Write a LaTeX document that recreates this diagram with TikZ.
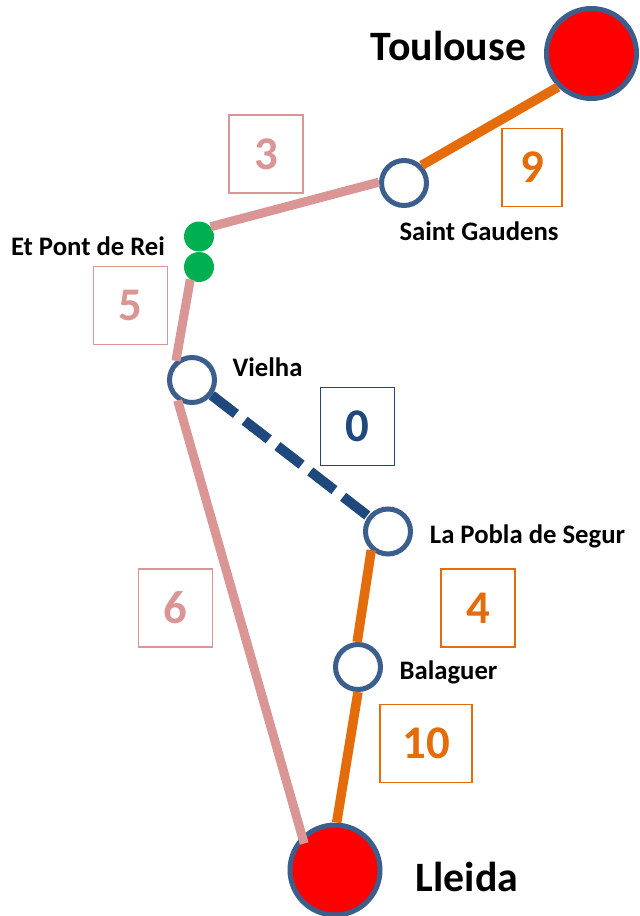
\documentclass[tikz,border=0pt]{standalone}
\usepackage{fontspec}
\setmainfont{Carlito}
\definecolor{ringblue}{RGB}{59,94,140}
\definecolor{dashblue}{RGB}{31,73,125}
\definecolor{lineorange}{RGB}{228,108,10}
\definecolor{linepink}{RGB}{217,150,148}
\definecolor{pontgreen}{RGB}{0,176,80}
\tikzstyle{city} = [circle, minimum size=90bp, inner sep=0pt, draw=ringblue, line width=5bp, fill=red]
\tikzstyle{stop} = [circle, minimum size=45bp, inner sep=0pt, draw=ringblue, line width=5bp, fill=white]
\tikzstyle{pont} = [circle, minimum size=30bp, inner sep=0pt, fill=pontgreen]
\tikzstyle{cityname} = [anchor=base, inner sep=0pt, font=\bfseries\fontsize{42}{46}\selectfont]
\tikzstyle{stopname} = [anchor=base, inner sep=0pt, font=\bfseries\fontsize{26.8}{30}\selectfont]
\tikzstyle{cost} = [rectangle, minimum width=74bp, minimum height=78bp, inner sep=0pt, line width=1.5bp, font=\bfseries\fontsize{47}{50}\selectfont]
\tikzstyle{orangeline} = [line width=9.5bp, draw=lineorange]
\tikzstyle{pinkline} = [line width=9bp, draw=linepink]
\tikzstyle{blueline} = [line width=10bp, draw=dashblue, dash pattern=on 30.5bp off 11bp]

\begin{document}
\begin{tikzpicture}[x=1bp, y=-1bp]
\useasboundingbox (0,0) rectangle (640,916);
% stations
\node (toulouse) [city] at (591.5,53.5) {};
\node (lleida) [city] at (335,870) {};
\node (gaudens) [stop] at (404,183) {};
\node (vielha) [stop] at (192,380) {};
\node (pobla) [stop] at (388,531.5) {};
\node (balaguer) [stop] at (358,667) {};
\node (pontA) [pont] at (199,236.5) {};
\node (pontB) [pont] at (199,267) {};

% names
\node (toulouseName) [cityname] at (448.5,60) {Toulouse};
\node (lleidaName) [cityname] at (467,891) {Lleida};
\node (gaudensName) [stopname] at (479,240) {Saint Gaudens};
\node (pontName) [stopname] at (88,255) {Et Pont de Rei};
\node (vielhaName) [stopname] at (267.5,376) {Vielha};
\node (poblaName) [stopname] at (527.5,543) {La Pobla de Segur};
\node (balaguerName) [stopname] at (448.5,679) {Balaguer};

% costs
\node (cost3) [cost, draw=linepink, text=linepink] at (266,154) {3};
\node (cost9) [cost, draw=lineorange, text=lineorange, minimum width=60bp] at (532,167.5) {9};
\node (cost5) [cost, draw=linepink, text=linepink] at (130.5,305.5) {5};
\node (cost0) [cost, draw=dashblue, text=dashblue] at (357.5,426.5) {0};
\node (cost6) [cost, draw=linepink, text=linepink] at (175.5,608) {6};
\node (cost4) [cost, draw=lineorange, text=lineorange] at (478,608) {4};
\node (cost10) [cost, draw=lineorange, text=lineorange, minimum width=92bp] at (426,743.5) {10};

% lines
\draw [orangeline] (toulouse.225) -- (gaudens.45);
\draw [pinkline] (gaudens.178) -- (pontA.40);
\draw [pinkline] (pontB.235) -- (vielha.130);
\draw [blueline] (vielha) -- (pobla);
\draw [orangeline] (pobla.228) -- (balaguer.92);
\draw [orangeline] (balaguer.270) -- (lleida.88);
\draw [pinkline, shorten >=-8bp] (vielha.235) -- (lleida.134);
\end{tikzpicture}
\end{document}
